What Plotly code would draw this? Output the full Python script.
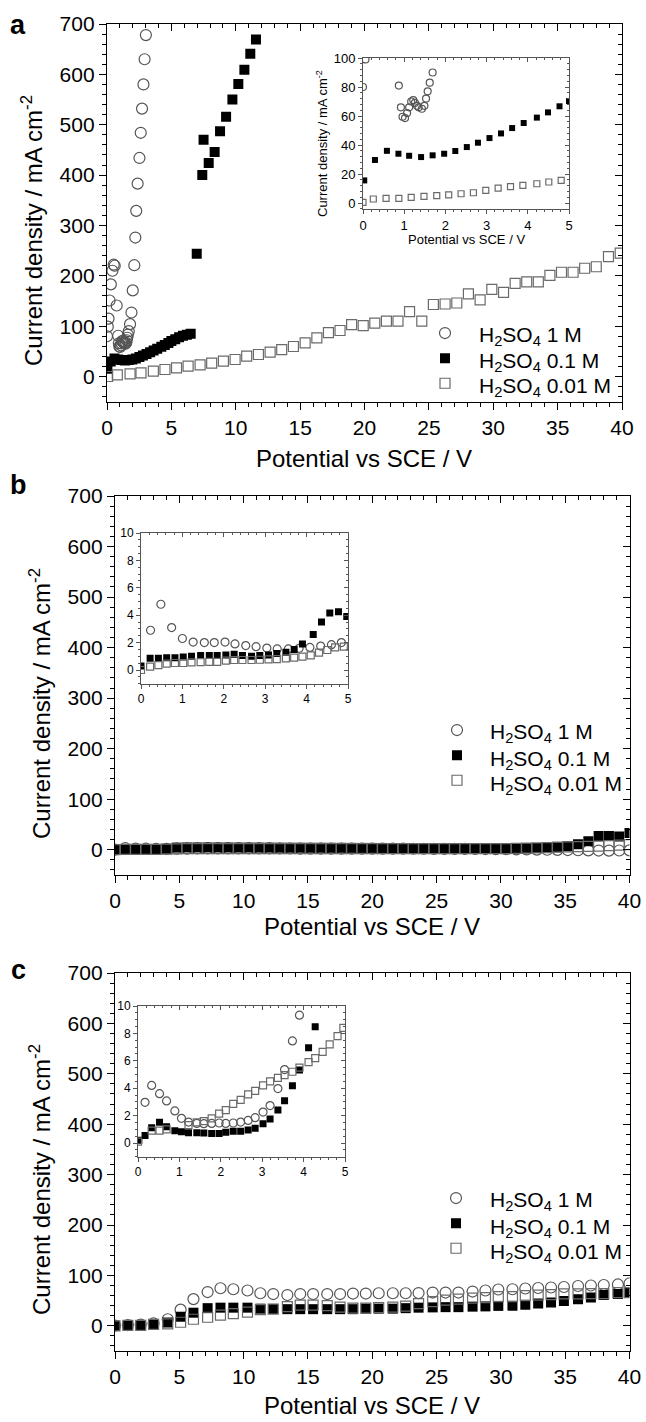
import plotly.graph_objects as go

# ---------------- data ----------------
# panel a: main + inset share the 1 M and 0.1 M series
xa_1M = [0, 0.06, 0.12, 0.2, 0.3, 0.42, 0.52, 0.6, 0.75, 0.87, 0.92, 0.96, 1.02, 1.07, 1.12,
         1.17, 1.22, 1.26, 1.31, 1.35, 1.43, 1.49, 1.53, 1.57, 1.62, 1.69, 1.79, 1.9, 2.0,
         2.12, 2.2, 2.27, 2.38, 2.52, 2.62, 2.72, 2.83, 2.92, 3.02]
ya_1M = [80, 99, 115, 151, 183, 210, 222, 220, 141, 81, 66, 59.5, 58.6, 62, 66,
         70, 71, 69, 67, 66, 65, 67, 72, 77, 83, 90, 104, 127, 171,
         221, 276, 329, 383, 434, 484, 532, 580, 630, 678]

xa_01 = [0.03, 0.29, 0.58, 0.86, 1.12, 1.41, 1.69, 1.97, 2.24, 2.52, 2.79, 3.07, 3.35, 3.62,
         3.9, 4.22, 4.49, 4.77, 5.0, 5.3, 5.6, 5.9, 6.2, 6.5, 6.97, 7.4, 7.5, 7.9, 8.36,
         8.78, 9.25, 9.74, 10.2, 10.67, 11.13, 11.57]
ya_01 = [15.6, 29.7, 36, 34, 32.6, 31.7, 32.9, 34, 35.9, 38.6, 41.6, 44.8, 48, 51.7,
         55.2, 58.9, 62.5, 66.7, 70.3, 74, 78, 81, 83, 85, 244, 400, 470, 424, 446,
         487, 516, 550, 581, 609, 641, 669]

xa_001_main = [0.05, 0.8, 1.79, 2.64, 3.6, 4.5, 5.4, 6.3, 7.23, 8.13, 9.04, 9.95, 10.85, 11.76,
               12.67, 13.57, 14.48, 15.39, 16.3, 17.2, 18.1, 19.0, 19.9, 20.8, 21.7, 22.6,
               23.5, 24.45, 25.35, 26.26, 27.17, 28.07, 28.98, 29.89, 30.8, 31.7, 32.6, 33.5,
               34.4, 35.3, 36.2, 37.1, 38.0, 38.95, 39.86]
ya_001_main = [0, 3.3, 5.3, 7.3, 10.6, 13.9, 17, 20.5, 23, 26.5, 30.5, 33.8, 40.4, 43.7,
               48.3, 53.6, 59.6, 66.8, 76.8, 87, 91.4, 103, 101, 106, 110, 110,
               129, 110, 143, 144, 146, 164, 152, 173, 167, 185, 188, 188,
               201, 207, 207, 215, 218, 238, 245]

xa_001_in = [0.0, 0.25, 0.56, 0.87, 1.17, 1.48, 1.79, 2.08, 2.38, 2.68, 2.98, 3.28, 3.58, 3.88,
             4.22, 4.51, 4.81]
ya_001_in = [0.5, 2.8, 3.2, 3.2, 3.9, 4.6, 5.1, 5.7, 6.4, 7.1, 8.7, 10.3, 11.3, 12.2,
             13.3, 14.5, 15.6]

# panel b
xb_main = [0.0, 0.8, 1.6, 2.4, 3.2, 4.0, 4.8, 5.6, 6.4, 7.2,
           8.0, 8.8, 9.6, 10.4, 11.2, 12.0, 12.8, 13.6, 14.4, 15.2,
           16.0, 16.8, 17.6, 18.4, 19.2, 20.0, 20.8, 21.6, 22.4, 23.2,
           24.0, 24.8, 25.6, 26.4, 27.2, 28.0, 28.8, 29.6, 30.4, 31.2,
           32.0, 32.8, 33.6, 34.4, 35.2, 36.0, 36.8, 37.6, 38.4, 39.2,
           40.0]
yb_1M = [0.3, 3.0, 2.1, 2.0, 1.8, 1.6, 2.0, 2.2, 2.4, 2.5,
         2.5, 2.6, 2.6, 2.5, 2.5, 2.5, 2.4, 2.4, 2.3, 2.3,
         2.2, 2.2, 2.2, 2.1, 2.1, 2.0, 2.0, 2.0, 2.0, 1.9,
         1.9, 1.8, 1.8, 1.7, 1.6, 1.5, 1.4, 1.2, 1.0, 0.8,
         0.6, 0.3, 0.0, -0.3, -0.6, -1.0, -1.3, -1.6, -1.8, -1.5,
         -1.2]
yb_01 = [0.3, 0.9, 1.0, 1.1, 1.3, 1.9, 4.2, 4.5, 4.5, 4.5,
         4.4, 4.4, 4.3, 4.3, 4.2, 4.2, 4.1, 4.0, 4.0, 3.9,
         3.9, 3.8, 3.8, 3.7, 3.6, 3.6, 3.5, 3.4, 3.4, 3.3,
         3.2, 3.2, 3.1, 3.0, 3.0, 2.9, 2.8, 2.8, 2.7, 2.8,
         3.0, 3.5, 4.0, 5.0, 7.0, 11.0, 17.0, 27.0, 27.0, 26.0,
         33.0]
yb_001 = [0.0, 0.6, 0.7, 0.8, 0.9, 1.1, 1.7, 2.0, 2.0, 2.0,
          2.0, 2.0, 2.0, 2.0, 2.0, 2.0, 2.0, 2.0, 2.0, 2.0,
          2.0, 2.0, 2.0, 2.0, 2.0, 2.0, 2.0, 2.0, 2.0, 2.0,
          2.0, 2.0, 2.0, 2.0, 2.0, 2.0, 2.0, 2.1, 2.2, 2.5,
          3.0, 3.5, 4.0, 5.0, 5.5, 6.0, 6.5, 7.0, 8.0, 9.0,
          10.0]

xb_in_1M = [0.23, 0.48, 0.74, 1.0, 1.26, 1.53, 1.77, 2.03, 2.27, 2.53, 2.78, 3.04, 3.29, 3.56,
            3.82, 4.08, 4.34, 4.6, 4.84]
yb_in_1M = [2.9, 4.8, 3.1, 2.3, 2.04, 2.0, 2.0, 2.04, 1.9, 1.78, 1.7, 1.6, 1.54, 1.54,
            1.58, 1.65, 1.75, 1.85, 2.0]
xb_in_01 = [0.0, 0.22, 0.42, 0.62, 0.82, 1.02, 1.22, 1.44, 1.65, 1.84, 2.05, 2.25, 2.45, 2.67,
            2.87, 3.08, 3.28, 3.5, 3.7, 3.9, 4.16, 4.36, 4.56, 4.77, 4.97]
yb_in_01 = [0.3, 0.85, 0.85, 0.9, 0.9, 0.95, 1.0, 1.05, 1.05, 1.05, 1.1, 1.15, 1.05, 1.0,
            1.05, 1.1, 1.2, 1.3, 1.5, 1.9, 2.6, 3.5, 4.16, 4.26, 3.9]
xb_in_001 = [0.0, 0.22, 0.42, 0.62, 0.82, 1.02, 1.22, 1.44, 1.65, 1.84, 2.05, 2.25, 2.45, 2.67,
             2.87, 3.08, 3.28, 3.5, 3.7, 3.9, 4.1, 4.3, 4.5, 4.69, 4.9]
yb_in_001 = [0.0, 0.25, 0.35, 0.47, 0.51, 0.51, 0.55, 0.58, 0.6, 0.6, 0.68, 0.73, 0.73, 0.73,
             0.75, 0.78, 0.8, 0.85, 0.9, 0.97, 1.07, 1.27, 1.46, 1.65, 1.7]

# panel c
xc_main = [0.0, 1.0, 2.0, 3.0, 4.1, 5.1, 6.1, 7.2, 8.2, 9.2,
           10.3, 11.3, 12.3, 13.4, 14.4, 15.4, 16.5, 17.5, 18.5, 19.5,
           20.5, 21.6, 22.6, 23.6, 24.7, 25.7, 26.7, 27.8, 28.8, 29.8,
           30.9, 31.9, 32.9, 33.9, 34.9, 36.0, 37.0, 38.0, 39.1, 40.0]
yc_1M = [0.5, 1.5, 2.5, 5, 13, 32, 53, 67, 74.5, 72.5,
         70, 64.6, 63, 61, 63, 63, 63, 63, 64, 64,
         64.6, 64.6, 64.6, 65, 66, 66, 66, 68, 70, 72,
         72.5, 74, 75, 76, 77, 79, 80, 81, 82, 84]
yc_01 = [0, 1, 1, 3, 6.5, 18, 26, 35, 36, 36,
         36, 34, 33.5, 33, 33, 33, 33, 33, 33, 34,
         34, 34, 35, 36, 36.5, 37, 37, 38, 38.5, 39.5,
         40, 42, 44, 46, 49, 52.5, 56, 61, 63, 66]
yc_001 = [0, 1, 1, 3, 4, 7, 13, 17, 21, 24,
          27, 32, 33, 38, 41, 41, 40, 37, 35, 35,
          36, 37, 39, 44, 48, 51, 53, 55, 56, 58,
          58, 60, 61, 62, 63.5, 63.5, 64, 64, 66, 66]

xc_in_1M = [0.17, 0.33, 0.52, 0.69, 0.89, 1.05, 1.22, 1.42, 1.59, 1.78, 1.96, 2.12, 2.3, 2.48,
            2.66, 2.83, 3.02, 3.19, 3.38, 3.54, 3.73, 3.9]
yc_in_1M = [2.97, 4.2, 3.6, 3.07, 2.34, 1.8, 1.53, 1.43, 1.41, 1.43, 1.46, 1.43, 1.46, 1.53,
            1.65, 1.85, 2.26, 2.73, 3.97, 5.36, 7.45, 9.33]
xc_in_01 = [0.02, 0.17, 0.33, 0.52, 0.69, 0.89, 1.05, 1.22, 1.42, 1.59, 1.78, 1.96, 2.12, 2.3,
            2.48, 2.66, 2.83, 3.02, 3.19, 3.38, 3.54, 3.73, 3.9, 4.12, 4.28]
yc_in_01 = [0.2, 0.54, 1.12, 1.51, 1.19, 0.9, 0.83, 0.75, 0.75, 0.73, 0.7, 0.7, 0.78, 0.85,
            0.85, 0.95, 1.07, 1.41, 1.75, 2.41, 3.09, 4.18, 5.33, 6.96, 8.49]
xc_in_001 = [0.0, 0.33, 0.52, 0.69, 1.22, 1.42, 1.59, 1.78, 1.96, 2.12, 2.3, 2.48, 2.66, 2.83,
             3.02, 3.19, 3.38, 3.54, 3.73, 3.9, 4.12, 4.28, 4.46, 4.63, 4.82, 4.96]
yc_in_001 = [0.1, 0.9, 0.9, 1.0, 1.3, 1.5, 1.6, 1.8, 2.15, 2.4, 2.85, 3.15, 3.55, 3.8,
             4.2, 4.5, 4.75, 4.95, 5.2, 5.5, 5.9, 6.2, 6.65, 7.2, 7.8, 8.4]

names = ['H<sub>2</sub>SO<sub>4</sub> 1 M',
         'H<sub>2</sub>SO<sub>4</sub> 0.1 M',
         'H<sub>2</sub>SO<sub>4</sub> 0.01 M']

# ---------------- layout helpers ----------------
W, H = 646, 1422
FONT = 'Liberation Sans, Arial, sans-serif'


def fx(px):
    return px / W


def fy(py):
    return 1 - py / H


def aname(kind, n):
    return kind + 'axis' + ('' if n == 1 else str(n))


def aref(kind, n):
    return kind + ('' if n == 1 else str(n))


fig = go.Figure()
layout_axes = {}


def add_frame(i, xpx, ypx, xr, yr, xd, xminor, yd, yminor, inset=False):
    b, o = 2 * i + 1, 2 * i + 2
    lc = '#555555' if inset else 'black'
    lw = 1 if inset else 1.4
    tl = 4 if inset else 7
    mtl = 2 if inset else 4
    fs = 13 if i == 3 else (12 if inset else 21)
    common = dict(showgrid=False, zeroline=False, tickcolor=lc, tickwidth=1, automargin=False,
                  tickfont=dict(family=FONT, size=fs, color='black'))
    layout_axes[aname('x', b)] = dict(
        common, domain=[fx(xpx[0]), fx(xpx[1])], range=xr, anchor=aref('y', b),
        showline=True, mirror=True, linecolor=lc, linewidth=lw, ticks='outside',
        ticklen=tl, dtick=xd, tick0=0,
        minor=dict(ticks='outside', dtick=xminor, ticklen=mtl, tickcolor=lc))
    layout_axes[aname('y', b)] = dict(
        common, domain=[fy(ypx[1]), fy(ypx[0])], range=yr, anchor=aref('x', b),
        showline=True, mirror=True, linecolor=lc, linewidth=lw, ticks='outside',
        ticklen=tl, dtick=yd, tick0=0,
        minor=dict(ticks='outside', dtick=yminor, ticklen=mtl, tickcolor=lc))
    layout_axes[aname('x', o)] = dict(
        common, overlaying=aref('x', b), side='top', anchor=aref('y', b), range=xr,
        showline=False, ticks='inside', ticklen=tl, dtick=xd, tick0=0,
        showticklabels=False,
        minor=dict(ticks='inside', dtick=xminor, ticklen=mtl, tickcolor=lc))
    layout_axes[aname('y', o)] = dict(
        common, overlaying=aref('y', b), side='right', anchor=aref('x', b), range=yr,
        showline=False, ticks='inside', ticklen=tl, dtick=yd, tick0=0,
        showticklabels=False,
        minor=dict(ticks='inside', dtick=yminor, ticklen=mtl, tickcolor=lc))
    fig.add_trace(go.Scatter(x=[None], y=[None], xaxis=aref('x', o), yaxis=aref('y', o),
                             showlegend=False, hoverinfo='skip'))
    return aref('x', b), aref('y', b)


def markers(kind, size):
    if kind == 0:
        return dict(symbol='circle-open', size=size, color='#555555',
                    line=dict(width=1.2, color='#555555'))
    if kind == 1:
        return dict(symbol='square', size=size - 1, color='black', line=dict(width=0))
    return dict(symbol='square-open', size=size - 1, color='#6a6a6a',
                line=dict(width=1.2, color='#6a6a6a'))


def series(xref, yref, x, y, kind, size, legend=None):
    # legend entries carry only the symbol; the label is drawn as an annotation
    fig.add_trace(go.Scatter(
        x=x, y=y, mode='markers', xaxis=xref, yaxis=yref, marker=markers(kind, size),
        name=' ', showlegend=legend is not None, legend=legend or 'legend'))


# panel a
xa, ya = add_frame(0, (107, 622), (24, 401.7), [0, 40], [-50, 700], 5, 1, 100, 20)
series(xa, ya, xa_1M, ya_1M, 0, 11, 'legend')
series(xa, ya, xa_01, ya_01, 1, 11, 'legend')
series(xa, ya, xa_001_main, ya_001_main, 2, 11, 'legend')
xi, yi = add_frame(3, (363, 569), (58, 209), [0, 5], [-4.1, 100], 1, 0.2, 20, 4, inset=True)
series(xi, yi, xa_1M, ya_1M, 0, 7)
series(xi, yi, xa_01, ya_01, 1, 7)
series(xi, yi, xa_001_in, ya_001_in, 2, 7)

# panel b
xb, yb = add_frame(1, (115, 629.5), (496, 875), [0, 40], [-50, 700], 5, 1, 100, 20)
series(xb, yb, xb_main, yb_1M, 0, 11, 'legend2')
series(xb, yb, xb_main, yb_01, 1, 11, 'legend2')
series(xb, yb, xb_main, yb_001, 2, 11, 'legend2')
xi, yi = add_frame(4, (141, 348), (533, 683.7), [0, 5], [-1, 10], 1, 0.2, 2, 0.5, inset=True)
series(xi, yi, xb_in_1M, yb_in_1M, 0, 8)
series(xi, yi, xb_in_01, yb_in_01, 1, 8)
series(xi, yi, xb_in_001, yb_in_001, 2, 8)

# panel c
xc, yc = add_frame(2, (115, 629.5), (973, 1351), [0, 40], [-50, 700], 5, 1, 100, 20)
series(xc, yc, xc_main, yc_1M, 0, 11, 'legend3')
series(xc, yc, xc_main, yc_01, 1, 11, 'legend3')
series(xc, yc, xc_main, yc_001, 2, 11, 'legend3')
xi, yi = add_frame(5, (138, 345), (1006, 1156.7), [0, 5], [-1, 10], 1, 0.2, 2, 0.5, inset=True)
series(xi, yi, xc_in_1M, yc_in_1M, 0, 8)
series(xi, yi, xc_in_01, yc_in_01, 1, 8)
series(xi, yi, xc_in_001, yc_in_001, 2, 8)

# annotations: panel letters, axis titles, legend labels
ann = []


def text(t, px, py, size, angle=0, xanchor='center'):
    ann.append(dict(text=t, x=fx(px), y=fy(py), xref='paper', yref='paper',
                    showarrow=False, textangle=angle, xanchor=xanchor, yanchor='middle',
                    font=dict(family=FONT, size=size, color='black')))


for letter, px, py in [('a', 18, 25), ('b', 18, 485), ('c', 18, 970)]:
    text('<b>%s</b>' % letter, px, py, 27)
ytitle = 'Current density / mA cm<sup>-2</sup>'
xtitle = 'Potential vs SCE / V'
for px, py in [(32, 231), (40, 704), (40, 1180)]:
    text(ytitle, px, py, 24, angle=-90)
for px, py in [(364, 459), (372, 926), (372, 1405)]:
    text(xtitle, px, py, 24)
text(ytitle, 322, 144, 13, angle=-90)
text(xtitle, 466, 239, 13)

# legend label rows (row centres in px)
for x0, rows in [(477, (333, 359, 384)), (488, (730, 757, 782)), (488, (1198, 1225, 1250))]:
    for nm, py in zip(names, rows):
        text(nm, x0, py + 3, 21, xanchor='left')

leg = dict(font=dict(family=FONT, size=17, color='black'), bgcolor='rgba(0,0,0,0)',
           xanchor='left', yanchor='top', tracegroupgap=0, itemsizing='trace')

fig.update_layout(
    width=W, height=H, autosize=False,
    margin=dict(l=0, r=0, t=0, b=0),
    paper_bgcolor='white', plot_bgcolor='white',
    annotations=ann,
    legend=dict(leg, x=fx(425), y=fy(315.5)),
    legend2=dict(leg, x=fx(437), y=fy(712.5)),
    legend3=dict(leg, x=fx(436), y=fy(1180.5)),
    **layout_axes
)

fig.write_html('out.html', config={'displayModeBar': False},
               post_script="document.body.style.margin='0px';")
